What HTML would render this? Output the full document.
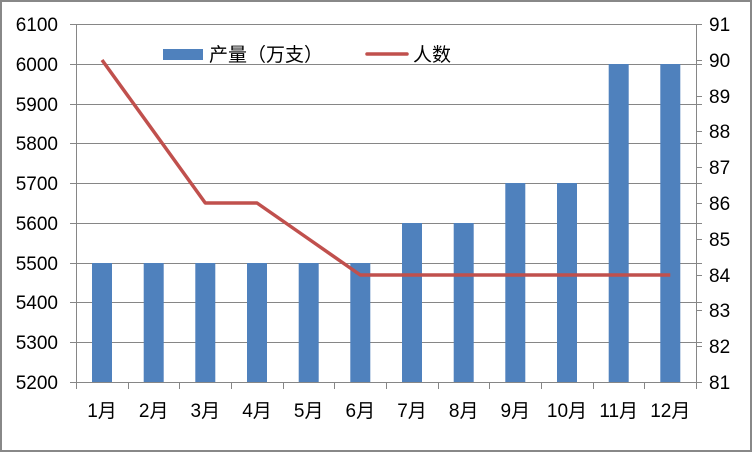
<!DOCTYPE html>
<html><head><meta charset="utf-8"><style>
body{margin:0;background:#fff}
svg{display:block}
text{font-family:"Liberation Sans","Noto Sans CJK SC",sans-serif;font-size:19px;fill:#000}
</style></head><body>
<svg width="752" height="452" viewBox="0 0 752 452">
<rect x="1" y="1" width="750" height="450" fill="#fff" stroke="#888" stroke-width="2"/>
<g stroke="#868686" stroke-width="1">
<line x1="70" y1="24.5" x2="702" y2="24.5"/>
<line x1="70" y1="64.5" x2="702" y2="64.5"/>
<line x1="70" y1="104.5" x2="702" y2="104.5"/>
<line x1="70" y1="143.5" x2="702" y2="143.5"/>
<line x1="70" y1="183.5" x2="702" y2="183.5"/>
<line x1="70" y1="223.5" x2="702" y2="223.5"/>
<line x1="70" y1="263.5" x2="702" y2="263.5"/>
<line x1="70" y1="302.5" x2="702" y2="302.5"/>
<line x1="70" y1="342.5" x2="702" y2="342.5"/>
<line x1="70" y1="382.5" x2="702" y2="382.5"/>
<line x1="76.5" y1="24" x2="76.5" y2="382"/>
<line x1="696.5" y1="24" x2="696.5" y2="382"/>
<line x1="696" y1="60.5" x2="702" y2="60.5"/>
<line x1="696" y1="96.5" x2="702" y2="96.5"/>
<line x1="696" y1="131.5" x2="702" y2="131.5"/>
<line x1="696" y1="167.5" x2="702" y2="167.5"/>
<line x1="696" y1="203.5" x2="702" y2="203.5"/>
<line x1="696" y1="239.5" x2="702" y2="239.5"/>
<line x1="696" y1="275.5" x2="702" y2="275.5"/>
<line x1="696" y1="310.5" x2="702" y2="310.5"/>
<line x1="696" y1="346.5" x2="702" y2="346.5"/>
</g>
<g stroke="#868686">
<line x1="76.5" y1="382" x2="76.5" y2="389"/><line x1="128.5" y1="382" x2="128.5" y2="389"/><line x1="179.5" y1="382" x2="179.5" y2="389"/><line x1="231.5" y1="382" x2="231.5" y2="389"/><line x1="283.5" y1="382" x2="283.5" y2="389"/><line x1="334.5" y1="382" x2="334.5" y2="389"/><line x1="386.5" y1="382" x2="386.5" y2="389"/><line x1="438.5" y1="382" x2="438.5" y2="389"/><line x1="489.5" y1="382" x2="489.5" y2="389"/><line x1="541.5" y1="382" x2="541.5" y2="389"/><line x1="593.5" y1="382" x2="593.5" y2="389"/><line x1="644.5" y1="382" x2="644.5" y2="389"/><line x1="696.5" y1="382" x2="696.5" y2="389"/>
</g>
<g fill="#4f81bd">
<rect x="92" y="263" width="20" height="119"/>
<rect x="143.7" y="263" width="20" height="119"/>
<rect x="195.3" y="263" width="20" height="119"/>
<rect x="247" y="263" width="20" height="119"/>
<rect x="298.7" y="263" width="20" height="119"/>
<rect x="350.3" y="263" width="20" height="119"/>
<rect x="402" y="223" width="20" height="159"/>
<rect x="453.7" y="223" width="20" height="159"/>
<rect x="505.3" y="183" width="20" height="199"/>
<rect x="557" y="183" width="20" height="199"/>
<rect x="608.7" y="64" width="20" height="318"/>
<rect x="660.3" y="64" width="20" height="318"/>
</g>
<polyline fill="none" stroke="#c0504d" stroke-width="3.5" stroke-linejoin="round" points="102,60 153.7,131.5 205.3,203 257,203 308.7,239 360.3,275 412,275 463.7,275 515.3,275 567,275 618.7,275 670.3,275"/>
<g text-anchor="end">
<text x="58" y="31">6100</text><text x="58" y="71">6000</text><text x="58" y="111">5900</text><text x="58" y="150">5800</text><text x="58" y="190">5700</text><text x="58" y="230">5600</text><text x="58" y="270">5500</text><text x="58" y="309">5400</text><text x="58" y="349">5300</text><text x="58" y="389">5200</text>
</g>
<g>
<text x="709" y="31">91</text><text x="709" y="67">90</text><text x="709" y="103">89</text><text x="709" y="138">88</text><text x="709" y="174">87</text><text x="709" y="210">86</text><text x="709" y="246">85</text><text x="709" y="282">84</text><text x="709" y="317">83</text><text x="709" y="353">82</text><text x="709" y="389">81</text>
</g>
<g text-anchor="middle">
<text x="102" y="417">1月</text><text x="153.7" y="417">2月</text><text x="205.3" y="417">3月</text><text x="257" y="417">4月</text><text x="308.7" y="417">5月</text><text x="360.3" y="417">6月</text><text x="412" y="417">7月</text><text x="463.7" y="417">8月</text><text x="515.3" y="417">9月</text><text x="567" y="417">10月</text><text x="618.7" y="417">11月</text><text x="670.3" y="417">12月</text>
</g>
<rect x="163" y="49" width="40" height="11" fill="#4f81bd"/>
<text x="209" y="61">产量（万支）</text>
<line x1="367" y1="54" x2="407" y2="54" stroke="#c0504d" stroke-width="3.5" stroke-linecap="round"/>
<text x="413" y="61">人数</text>
</svg>
</body></html>
